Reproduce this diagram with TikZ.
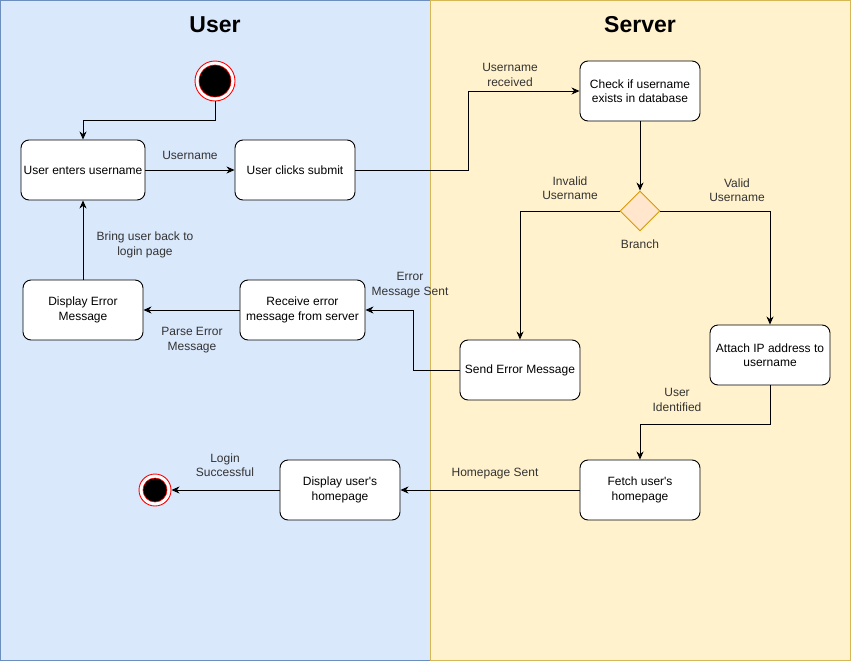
\documentclass[tikz,border=0pt]{standalone}
\usepackage{fontspec}
\setmainfont{Liberation Sans}
\newfontfamily\lsans{Liberation Sans}
\usetikzlibrary{arrows.meta,shapes.geometric}
\definecolor{userfill}{HTML}{DAE8FC}
\definecolor{userline}{HTML}{6C8EBF}
\definecolor{servfill}{HTML}{FFF2CC}
\definecolor{servline}{HTML}{D6B656}
\definecolor{diafill}{HTML}{FFE6CC}
\definecolor{dialine}{HTML}{D79B00}
\definecolor{lbl}{HTML}{333333}
\begin{document}
\begin{tikzpicture}[x=1pt,y=-1pt,
  box/.style={draw=black,fill=white,rounded corners=8pt,line width=0.9pt,minimum width=120pt,minimum height=60pt,inner sep=2pt,align=center,font=\lsans\fontsize{12}{14.5}\selectfont},
  lab/.style={align=center,font=\lsans\fontsize{12}{14.5}\selectfont,text=lbl,inner sep=0pt},
  conn/.style={draw=black,line width=0.9pt,-{Stealth[length=8pt,width=7pt,inset=2.5pt]}},
  title/.style={font=\lsans\fontsize{23}{27}\selectfont\bfseries}]
\useasboundingbox (0,0) rectangle (851,661);
% lanes
\path[fill=userfill,draw=userline,line width=1pt] (0.5,0.5) rectangle (430,660.5);
\path[fill=servfill,draw=servline,line width=1pt] (430,0.5) rectangle (850.5,660.5);
\node[title] (tuser) at (215,25) {User};
\node[title] (tserv) at (640,25) {Server};
% start
\node[circle,draw=red,fill=white,minimum size=40pt,inner sep=0pt,line width=0.9pt] (start) at (215,81) {};
\node[circle,draw=red,fill=black,minimum size=32pt,inner sep=0pt,line width=0.6pt] (startin) at (215,81) {};
% end
\node[circle,draw=red,fill=white,minimum size=32pt,inner sep=0pt,line width=0.9pt] (end) at (155,490) {};
\node[circle,draw=red,fill=black,minimum size=24pt,inner sep=0pt,line width=0.6pt] (endin) at (155,490) {};
% boxes
\node[box,minimum width=124pt] (enter) at (83,170) {User enters username};
\node[box] (submit) at (295,170) {User clicks submit};
\node[box] (check) at (640,91) {Check if username\\exists in database};
\node[diamond,draw=dialine,fill=diafill,minimum width=40pt,minimum height=40pt,inner sep=0pt,line width=0.9pt] (branch) at (640,211) {};
\node[lab] (branchlab) at (640,244) {Branch};
\node[box] (senderr) at (520,370) {Send Error Message};
\node[box] (attach) at (770,355) {Attach IP address to\\username};
\node[box,minimum width=125pt] (receive) at (302.5,310) {Receive error\\message from server};
\node[box] (disperr) at (83,310) {Display Error\\Message};
\node[box] (fetch) at (640,490) {Fetch user's\\homepage};
\node[box] (disphome) at (340,490) {Display user's\\homepage};
% connectors
\coordinate (c1) at (215,120);
\draw[conn] (start.south) -- (c1) -| (enter.north);
\draw[conn] (enter.east) -- (submit.west);
\node[lab] (l1) at (190,155) {Username};
\draw[conn] (submit.east) -- (468,170) |- (check.west);
\node[lab] (l2) at (510,75) {Username\\received};
\draw[conn] (check.south) -- (branch.north);
\draw[conn] (branch.west) -| (senderr.north);
\node[lab] (l3) at (570,188) {Invalid\\Username};
\draw[conn] (branch.east) -| (attach.north);
\node[lab] (l4) at (737,190) {Valid\\Username};
\draw[conn] (senderr.west) -- (413,370) |- (receive.east);
\node[lab] (l5) at (410,285) {Error\\Message Sent};
\draw[conn] (receive.west) -- (disperr.east);
\node[lab] (l6) at (192,340) {Parse Error\\Message};
\draw[conn] (disperr.north) -- (enter.south);
\node[lab] (l7) at (145,245) {Bring user back to\\login page};
\draw[conn] (attach.south) -- (770,424) -| (fetch.north);
\node[lab] (l8) at (677,400) {User\\Identified};
\draw[conn] (fetch.west) -- (disphome.east);
\node[lab] (l9) at (495,474) {Homepage Sent};
\draw[conn] (disphome.west) -- (end.east);
\node[lab] (l10) at (225,465) {Login\\Successful};
\end{tikzpicture}
\end{document}
